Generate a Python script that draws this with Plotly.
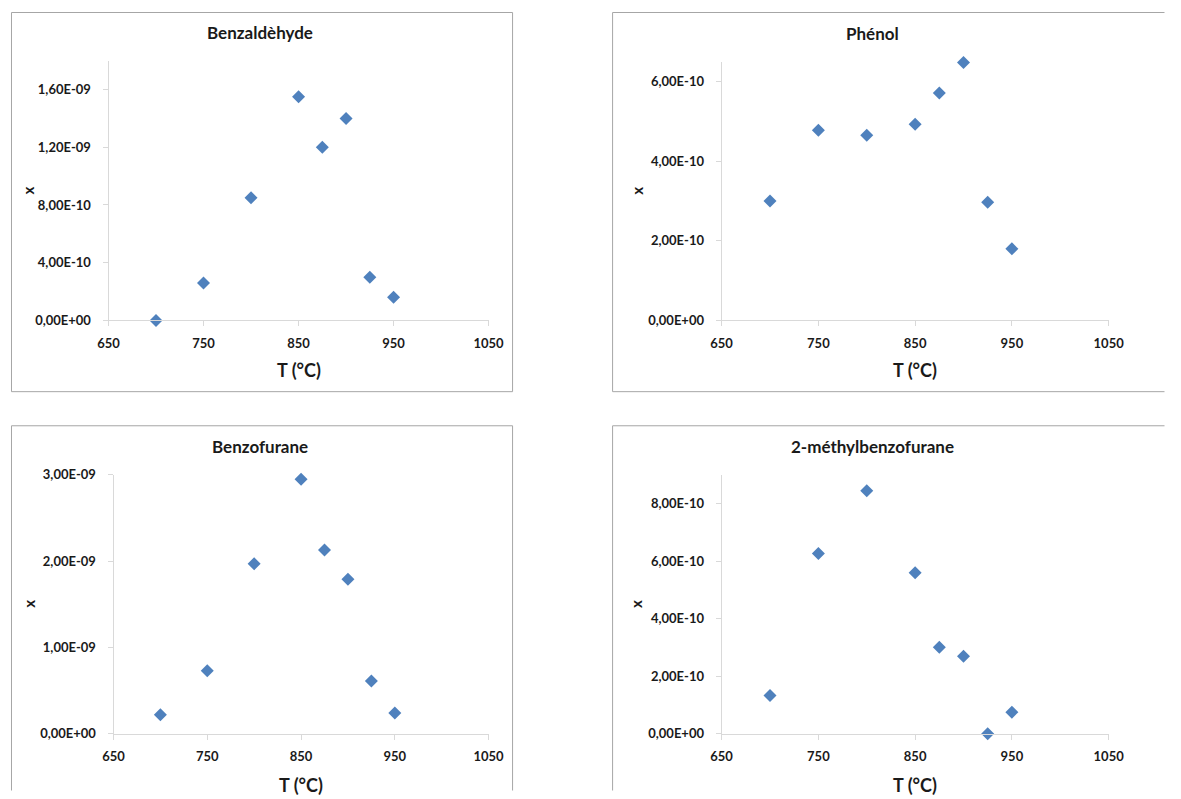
import plotly.graph_objects as go

# ---- data ----
temps = [700, 750, 800, 850, 875, 900, 925, 950]

titles = ["Benzaldèhyde", "Phénol", "Benzofurane", "2-méthylbenzofurane"]

benzaldehyde = [0.0, 2.6e-10, 8.5e-10, 1.55e-9, 1.20e-9, 1.40e-9, 3.0e-10, 1.6e-10]
phenol = [3.0e-10, 4.78e-10, 4.65e-10, 4.93e-10, 5.71e-10, 6.48e-10, 2.97e-10, 1.80e-10]
benzofurane = [2.2e-10, 7.3e-10, 1.97e-9, 2.95e-9, 2.13e-9, 1.79e-9, 6.1e-10, 2.4e-10]
methylbenzofurane = [1.33e-10, 6.27e-10, 8.45e-10, 5.60e-10, 3.01e-10, 2.69e-10, 0.0, 0.75e-10]

x_ticks = [650, 750, 850, 950, 1050]
x_ticklabels = ["650", "750", "850", "950", "1050"]

y1_ticks = [0, 4e-10, 8e-10, 1.2e-9, 1.6e-9]
y1_labels = ["0,00E+00", "4,00E-10", "8,00E-10", "1,20E-09", "1,60E-09"]
y2_ticks = [0, 2e-10, 4e-10, 6e-10]
y2_labels = ["0,00E+00", "2,00E-10", "4,00E-10", "6,00E-10"]
y3_ticks = [0, 1e-9, 2e-9, 3e-9]
y3_labels = ["0,00E+00", "1,00E-09", "2,00E-09", "3,00E-09"]
y4_ticks = [0, 2e-10, 4e-10, 6e-10, 8e-10]
y4_labels = ["0,00E+00", "2,00E-10", "4,00E-10", "6,00E-10", "8,00E-10"]

y_ranges = [[0, 1.8e-9], [0, 6.5e-10], [0, 3.0e-9], [0, 9.0e-10]]

series = [benzaldehyde, phenol, benzofurane, methylbenzofurane]
yticks = [(y1_ticks, y1_labels), (y2_ticks, y2_labels), (y3_ticks, y3_labels), (y4_ticks, y4_labels)]

# ---- layout geometry (target pixels in the final picture) ----
W, H = 1181, 799
FONT = "Lato"
TXT = "#1a1a1a"
AXC = "#d9d9d9"
BLUE = "#4F81BD"
BOXC = "#a6a6a6"

# the photographed page comes out slightly shrunk and shifted; pre-compensate
OX, OY, SC = 11.5, 8.5, 0.977


def cx(px):
    return min(max((px - OX) / SC, 0.5), W - 0.5)


def cy(py):
    return min(max((py - OY) / SC, 0.5), H - 0.5)


# plot areas: (x_left, x_right, y_top, y_bottom) in px
areas = [(109, 489, 61, 320), (722, 1109, 62, 320), (114, 489, 474, 732), (722, 1109, 474, 732)]
# box outlines as pixel polylines (panels cut off at right / bottom edge)
box_paths = [
    [(8, 13), (513, 13), (513, 391), (8, 391), (8, 13)],
    [(1200, 13), (613, 13), (613, 391), (1200, 391)],
    [(8, 820), (8, 425), (513, 425), (513, 820)],
    [(613, 820), (613, 425), (1200, 425)],
]
title_pos = [(260, 33), (873, 34), (260, 446), (873, 446)]
xtitle_pos = [(299, 369), (915, 369), (301, 783), (915, 783)]
ytitle_pos = [(29, 191), (637, 191), (30, 603), (637, 603)]


def px_path(pts):
    s = ""
    for k, (px, py) in enumerate(pts):
        s += ("M" if k == 0 else "L") + f"{cx(px) / W:.5f},{1 - cy(py) / H:.5f}"
    return s


fig = go.Figure()
layout = dict(
    width=W, height=H, autosize=False,
    margin=dict(l=0, r=0, t=0, b=0, pad=0),
    paper_bgcolor="white", plot_bgcolor="white",
    showlegend=False,
    font=dict(family=FONT, color=TXT),
)

shapes = []
annotations = []
for i in range(4):
    n = "" if i == 0 else str(i + 1)
    xl, xr, yt, yb = areas[i]
    fig.add_trace(go.Scatter(
        x=temps, y=series[i], mode="markers",
        marker=dict(symbol="diamond", size=10, color=BLUE, line=dict(width=0)),
        xaxis="x" + n, yaxis="y" + n, cliponaxis=False, hoverinfo="skip",
    ))
    layout["xaxis" + n] = dict(
        domain=[cx(xl) / W, cx(xr) / W], anchor="y" + n,
        range=[650, 1050], tickvals=x_ticks, ticktext=x_ticklabels,
        showgrid=False, zeroline=False, showline=True, linecolor=AXC, linewidth=1,
        ticks="outside", ticklen=5, tickcolor=AXC, ticklabelstandoff=6,
        tickfont=dict(family=FONT, size=13, color=TXT, weight="bold"),
        fixedrange=True,
    )
    layout["yaxis" + n] = dict(
        domain=[1 - cy(yb) / H, 1 - cy(yt) / H], anchor="x" + n,
        range=y_ranges[i], tickvals=yticks[i][0], ticktext=yticks[i][1],
        showgrid=False, zeroline=False, showline=True, linecolor=AXC, linewidth=1,
        ticks="outside", ticklen=5, tickcolor=AXC, ticklabelstandoff=9,
        tickfont=dict(family=FONT, size=13, color=TXT, weight="bold"),
        fixedrange=True,
    )
    shapes.append(dict(type="path", xref="paper", yref="paper",
                       path=px_path(box_paths[i]),
                       line=dict(color=BOXC, width=1), layer="below"))
    tx, ty = title_pos[i]
    annotations.append(dict(text=titles[i], xref="paper", yref="paper",
                            x=cx(tx) / W, y=1 - cy(ty) / H, xanchor="center", yanchor="middle",
                            showarrow=False, font=dict(family=FONT, size=17, color=TXT, weight="bold")))
    ax, ay = xtitle_pos[i]
    annotations.append(dict(text="T (°C)", xref="paper", yref="paper",
                            x=cx(ax) / W, y=1 - cy(ay) / H, xanchor="center", yanchor="middle",
                            showarrow=False, font=dict(family=FONT, size=18, color=TXT, weight="bold")))
    yx, yy = ytitle_pos[i]
    annotations.append(dict(text="x", xref="paper", yref="paper",
                            x=cx(yx) / W, y=1 - cy(yy) / H, xanchor="center", yanchor="middle",
                            textangle=-90, showarrow=False,
                            font=dict(family=FONT, size=15, color=TXT, weight="bold")))

layout["shapes"] = shapes
layout["annotations"] = annotations
fig.update_layout(**layout)
fig.write_html(
    "out.html",
    config={"displayModeBar": False, "staticPlot": True},
    post_script="document.body.style.margin='0';document.body.style.overflow='hidden';",
)
